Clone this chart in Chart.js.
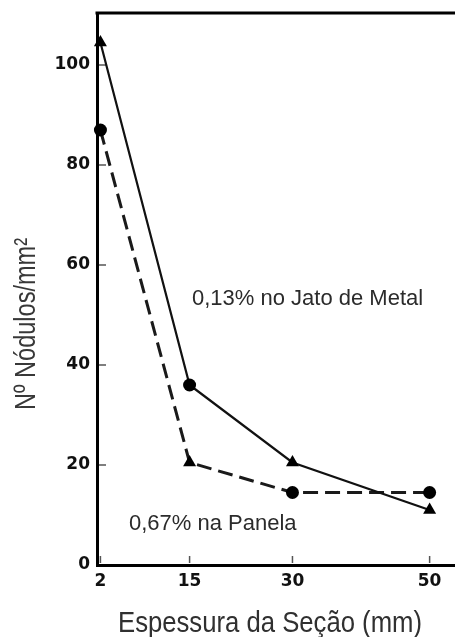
<!DOCTYPE html>
<html>
<head>
<meta charset="utf-8">
<script src="https://cdn.jsdelivr.net/npm/chart.js@4.4.1/dist/chart.umd.min.js"></script>
<style>
  html, body { margin: 0; padding: 0; background: #fff; }
  canvas { display: block; }
</style>
</head>
<body>
<canvas id="chart" width="455" height="637"></canvas>
<script>
// Section thickness (mm) and nodule counts per mm²
const thickness = [2, 15, 30, 50];
const jatoMetal = [104.5, 36, 20.5, 11];
const panela = [87, 20.5, 14.5, 14.5];
const xTicks = [2, 15, 30, 50];
const yTicks = [0, 20, 40, 60, 80, 100];
const jatoShapes = ['triangle', 'circle', 'triangle', 'triangle'];
const panelaShapes = ['circle', 'triangle', 'circle', 'circle'];

const labelJato = '0,13% no Jato de Metal';
const labelPanela = '0,67% na Panela';
const xTitle = 'Espessura da Seção (mm)';
const yTitle = 'Nº Nódulos/mm²';

const TEXT_FONT = '"Liberation Sans", Arial, sans-serif';
const TICK_FONT = { family: '"DejaVu Sans", sans-serif', weight: 'bold', size: 17 };

function toPoints(values) {
  return thickness.map((x, i) => ({ x: x, y: values[i] }));
}

// Text squeezed along its baseline so tall glyphs fit a given run length
function drawFitted(ctx, text, x, y, runLength, fontPx, angle, color) {
  ctx.save();
  ctx.font = fontPx + 'px ' + TEXT_FONT;
  const w = ctx.measureText(text).width;
  ctx.translate(x, y);
  ctx.rotate(angle);
  ctx.scale(runLength / w, 1);
  ctx.fillStyle = color;
  ctx.textAlign = 'center';
  ctx.textBaseline = 'alphabetic';
  ctx.fillText(text, 0, 0);
  ctx.restore();
}

const framePlugin = {
  id: 'frame',
  beforeDatasetsDraw(chart) {
    const { ctx, chartArea: a, scales } = chart;
    ctx.save();
    // top edge of the frame
    ctx.fillStyle = '#000';
    ctx.fillRect(a.left - 1.5, a.top - 1.5, a.right - a.left + 1.5, 3);
    // short inward tick marks
    ctx.strokeStyle = '#555';
    ctx.lineWidth = 1.5;
    ctx.beginPath();
    scales.y.ticks.forEach(t => {
      const py = scales.y.getPixelForValue(t.value);
      if (t.value === 0) return;
      ctx.moveTo(a.left + 2, py);
      ctx.lineTo(a.left + 9, py);
    });
    scales.x.ticks.forEach(t => {
      const px = scales.x.getPixelForValue(t.value);
      ctx.moveTo(px, a.bottom - 2);
      ctx.lineTo(px, a.bottom - 9);
    });
    ctx.stroke();
    ctx.restore();
  },
  afterDraw(chart) {
    const { ctx } = chart;
    // series captions
    ctx.save();
    ctx.font = '22px ' + TEXT_FONT;
    ctx.fillStyle = '#2b2b2b';
    ctx.textAlign = 'left';
    ctx.textBaseline = 'alphabetic';
    ctx.fillText(labelJato, 192, 305);
    ctx.fillText(labelPanela, 129, 530);
    ctx.restore();
    // axis titles
    drawFitted(ctx, xTitle, 270, 632, 304, 30, 0, '#303030');
    drawFitted(ctx, yTitle, 35, 324, 172, 30, -Math.PI / 2, '#383838');
  }
};

new Chart(document.getElementById('chart'), {
  type: 'line',
  data: {
    datasets: [
      {
        label: labelJato,
        data: toPoints(jatoMetal),
        borderColor: '#111',
        borderWidth: 2.2,
        backgroundColor: '#000',
        pointStyle: jatoShapes,
        pointRadius: jatoShapes.map(s => (s === 'triangle' ? 7.5 : 6.5)),
        pointBorderWidth: 0,
        pointBackgroundColor: '#000',
        tension: 0,
        clip: false
      },
      {
        label: labelPanela,
        data: toPoints(panela),
        borderColor: '#1a1a1a',
        borderWidth: 3,
        borderDash: [15, 7],
        backgroundColor: '#000',
        pointStyle: panelaShapes,
        pointRadius: panelaShapes.map(s => (s === 'triangle' ? 7.5 : 6.5)),
        pointBorderWidth: 0,
        pointBackgroundColor: '#000',
        tension: 0,
        clip: false
      }
    ]
  },
  options: {
    responsive: false,
    animation: false,
    devicePixelRatio: 1,
    layout: { autoPadding: false, padding: { top: 13, right: 0, left: 0, bottom: 0 } },
    plugins: {
      legend: { display: false },
      tooltip: { enabled: false }
    },
    scales: {
      x: {
        type: 'linear',
        min: 1.5,
        max: 53.7,
        afterBuildTicks: s => { s.ticks = xTicks.map(v => ({ value: v })); },
        afterFit: s => { s.height = 72; s.paddingLeft = 0; s.paddingRight = 0; },
        grid: { display: false, drawTicks: false },
        border: { display: true, width: 3, color: '#000' },
        ticks: {
          font: TICK_FONT,
          color: '#111',
          padding: 6,
          maxRotation: 0,
          autoSkip: false
        }
      },
      y: {
        type: 'linear',
        min: 0,
        max: 110.4,
        afterBuildTicks: s => { s.ticks = yTicks.map(v => ({ value: v })); },
        afterFit: s => { s.width = 97; s.paddingTop = 0; s.paddingBottom = 0; },
        grid: { display: false, drawTicks: false },
        border: { display: true, width: 3, color: '#000' },
        ticks: {
          font: TICK_FONT,
          color: '#111',
          padding: 7,
          autoSkip: false
        }
      }
    }
  },
  plugins: [framePlugin]
});
</script>
</body>
</html>
